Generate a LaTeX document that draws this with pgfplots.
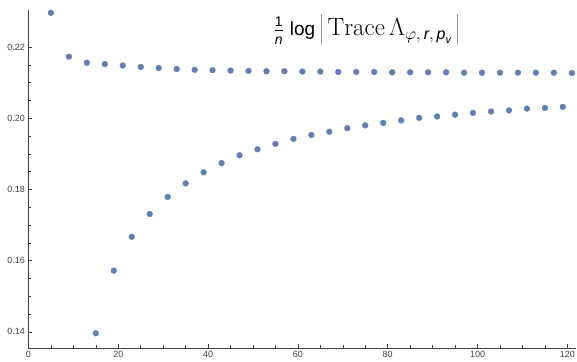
\documentclass[border=0pt]{standalone}
\usepackage{fontspec}
\setsansfont{Liberation Sans}
\usepackage{pgfplots}
\pgfplotsset{compat=1.18}
\definecolor{mblue}{rgb}{0.368417,0.506779,0.709798}
\begin{document}
\begin{tikzpicture}
\begin{axis}[
  scale only axis,
  width=548pt, height=338pt,
  xmin=0, xmax=122,
  ymin=0.1355, ymax=0.2304,
  axis lines=left,
  axis line style={black!75, -, line width=0.7pt},
  tick align=inside,
  major tick length=4pt,
  minor tick length=2.5pt,
  tick style={black!75, line width=0.6pt},
  xtick={0,20,40,60,80,100,120},
  ytick={0.14,0.16,0.18,0.20,0.22},
  minor x tick num=3,
  minor y tick num=3,
  tick label style={font=\sffamily\fontsize{9}{10}\selectfont, text=black!75},
  /pgf/number format/assume math mode=true,
  yticklabel style={/pgf/number format/.cd, fixed, fixed zerofill, precision=2},
  clip=false,
]
\addplot[only marks, mark=*, mblue, mark size=2.9pt]
coordinates {
(5,0.2296) (9,0.2173) (13,0.2156) (17,0.2152) (21,0.2148) (25,0.2144)
(29,0.2141) (33,0.2138) (37,0.2136) (41,0.2135) (45,0.2134) (49,0.2133)
(53,0.2132) (57,0.2132) (61,0.2131) (65,0.2131) (69,0.2130) (73,0.2130)
(77,0.2130) (81,0.2129) (85,0.2129) (89,0.2129) (93,0.2129) (97,0.2128)
(101,0.2128) (105,0.2128) (109,0.2128) (113,0.2128) (117,0.2128) (121,0.2127)
};
\addplot[only marks, mark=*, mblue, mark size=2.9pt]
coordinates {
(15,0.1396) (19,0.1572) (23,0.1667) (27,0.1731) (31,0.1779) (35,0.1817)
(39,0.1848) (43,0.1874) (47,0.1896) (51,0.1913) (55,0.1928) (59,0.1942)
(63,0.1953) (67,0.1962) (71,0.1972) (75,0.1980) (79,0.1987) (83,0.1994)
(87,0.2001) (91,0.2005) (95,0.2010) (99,0.2015) (103,0.2019) (107,0.2022)
(111,0.2027) (115,0.2029) (119,0.2032)
};
% heading: (1/n) log |Trace Lambda_{phi,r,p_v}|
\node[anchor=base, inner sep=0pt] at (axis cs:75.3,0.2231)
  {\fontsize{25}{30}\selectfont
   $\frac{\textsf{\fontsize{14}{16}\selectfont 1}}{\textsf{\fontsize{14}{16}\selectfont\itshape n}}$%
   \hspace{6pt}\textsf{\fontsize{19}{22}\selectfont log}\hspace{5pt}%
   $\left|\,\mathrm{Trace}\,\Lambda_{\varphi,\,\textsf{\fontsize{16}{18}\selectfont\itshape r},\,\textsf{\fontsize{16}{18}\selectfont\itshape p}_{\textsf{\fontsize{11}{12}\selectfont\itshape v}}}\,\right|$};
\end{axis}
\pgfresetboundingbox
\path ([shift={(-28.5pt,-13.3pt)}]current axis.south west)
  rectangle ([shift={(0.7pt,10pt)}]current axis.north east);
\end{tikzpicture}
\end{document}
